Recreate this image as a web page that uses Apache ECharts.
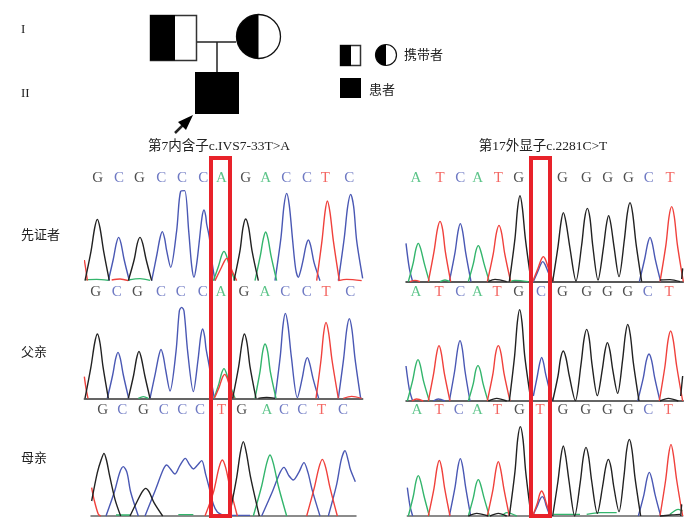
<!DOCTYPE html>
<html><head><meta charset="utf-8">
<script src="https://cdn.jsdelivr.net/npm/echarts@6/dist/echarts.min.js"></script>
<style>html,body{margin:0;padding:0;background:#fff}#c{width:700px;height:525px}</style>
</head><body><div id="c"></div>
<script>
const a_black=[[15,0,33,88,44,158,52,184,60,158,71,88,88,0],[145,0,163,65,172,112,180,130,188,112,198,65,215,0],[462,0,480,90,489,159,497,185,506,159,516,90,535,0]];
const a_blue=[[85,0,100,65,109,112,116,130,123,112,132,65,148,0],[215,0,231,80,240,128,247,147,254,126,260,90,272,40,290,150,302,268,314,270,326,150,335,45,342,10,350,50,357,110,366,190,372,212,377,195,380,170,388,130,397,50,405,0],[585,0,603,130,612,225,620,262,628,225,638,120,647,35,655,10,662,30,670,65,678,105,685,122,692,105,702,55,720,0],[775,0,793,130,803,222,812,259,821,222,830,120,848,7]];
const a_green=[[400,0,416,45,425,76,432,88,439,76,448,45,465,0],[525,0,541,75,550,126,557,146,564,126,573,75,590,0],[15,3,50,4,85,1],[145,2,180,6,210,1]];
const a_red=[[13,62,18,30,22,0],[405,0,422,35,433,58,440,67,447,58,455,33,470,0],[710,0,726,120,735,205,742,239,750,205,760,120,778,0],[95,2,120,5,145,0],[775,0,800,4,845,0]];
const a_bases=["G","C","G","C","C","C","A","G","A","C","C","T","C"];
const a_basePos=[53,117,178,244,306,370,424,497,557,619,681,736,808];

const b_black=[[328,0,345,130,353,222,360,258,367,222,376,130,392,10],[458,0,474,105,483,178,490,207,498,178,510,100,528,2,545,110,554,190,562,220,570,190,578,110,594,5,610,100,619,170,626,198,633,170,642,105,657,15,673,125,682,205,690,237,698,205,708,115,725,0],[845,8,848,40],[265,0,285,7,320,0],[780,5,810,6,840,0]];
const b_blue=[[18,115,28,40,38,0],[148,0,165,87,174,150,181,174,188,150,197,87,213,0],[400,0,414,32,422,52,428,60,435,52,444,30,458,0],[718,0,734,68,743,114,750,133,757,114,766,66,782,0]];
const b_green=[[25,0,40,58,48,99,55,115,62,99,72,58,88,0],[205,0,220,54,228,93,235,108,242,93,252,54,268,0],[330,0,345,4,385,0],[120,0,135,5,150,0]];
const b_red=[[85,0,102,90,112,156,120,181,128,156,136,90,152,0],[262,0,280,85,289,145,297,169,305,145,314,85,332,0],[398,0,414,40,423,65,430,75,437,65,446,38,460,0],[780,0,798,112,807,194,815,225,823,194,832,112,850,0],[30,0,45,4,60,0]];
const b_bases=["A","T","C","A","T","G","G","G","G","G","C","T"];
const b_basePos=[48,120,181,233,295,356,487,559,623,685,746,810];

const c_black=[[15,0,33,95,44,166,52,193,60,166,69,95,85,0],[145,0,161,70,170,121,177,141,184,121,194,70,210,0],[458,0,476,95,486,166,493,193,501,166,510,95,528,0],[535,0,560,3,585,0]];
const c_blue=[[82,0,98,70,107,119,114,138,121,119,130,70,146,0],[210,0,226,75,236,126,243,147,250,126,257,85,270,22,288,140,298,262,305,273,312,262,323,140,340,20,354,115,362,185,368,208,374,185,378,150,388,95,396,40,403,0],[585,0,601,128,609,219,616,255,624,219,634,125,652,2,667,62,675,105,682,122,689,105,699,60,716,0],[775,0,791,120,800,205,808,239,816,205,825,120,842,0]];
const c_green=[[402,0,417,45,425,76,432,89,439,76,448,45,465,0],[525,0,540,80,548,140,555,163,563,140,571,80,588,0],[175,0,190,5,205,0]];
const c_red=[[13,65,18,30,24,0],[403,0,418,35,427,62,434,72,441,62,449,36,462,0],[708,0,723,115,731,196,738,228,746,196,756,115,775,0],[790,0,815,6,845,0]];
const c_bases=["G","C","G","C","C","C","A","G","A","C","C","T","C"];
const c_basePos=[47,110,172,243,302,368,423,492,555,616,680,738,811];

const d_black=[[328,0,344,137,352,236,359,274,366,236,374,137,390,20],[458,0,474,75,482,129,490,150,498,129,508,75,526,1,543,110,552,185,560,215,568,185,576,110,592,16,607,95,615,150,622,175,630,150,638,95,653,23,668,125,676,198,683,230,691,198,700,115,717,0],[842,15,848,75],[265,0,290,8,320,0],[780,0,805,8,835,0]];
const d_blue=[[18,105,28,35,38,0],[148,0,164,90,173,156,180,181,187,156,195,90,210,0],[400,15,412,75,419,113,425,131,431,113,436,85,446,43,452,20,458,0],[713,0,730,70,739,121,747,141,755,121,764,70,780,0],[100,0,115,6,135,0]];
const d_green=[[22,0,38,62,47,107,54,124,61,107,70,62,88,0],[205,0,220,53,227,91,234,106,241,91,249,53,264,0]];
const d_red=[[85,0,101,83,110,143,117,166,124,143,133,83,150,0],[262,0,279,83,287,143,295,166,303,143,312,83,330,0],[778,0,795,105,804,181,812,210,820,181,830,105,848,0],[35,0,50,6,70,0]];
const d_bases=["A","T","C","A","T","G","C","G","G","G","G","C","T"];
const d_basePos=[48,117,181,232,291,356,423,487,560,622,683,743,807];

const e_black=[[35,45,52,130,64,170,72,188,80,165,88,125,105,50,122,0],[150,0,172,45,187,73,197,83,207,73,222,40,248,0],[448,0,470,115,481,190,490,223,499,190,512,115,538,0]];
const e_blue=[[78,0,104,75,119,130,130,148,141,130,152,72,175,0],[195,0,225,75,250,140,260,153,272,140,285,126,300,152,316,173,328,155,340,141,352,152,365,166,377,125,388,83,400,35,412,12,430,2,445,0],[545,0,578,75,600,130,612,146,626,122,640,108,656,130,672,160,684,130,696,80,720,0],[745,0,770,95,784,170,795,196,805,165,811,140,826,103],[445,2,510,2]];
const e_green=[[520,0,545,90,560,158,570,183,580,158,595,90,620,0],[108,3,150,3],[295,4,340,4]];
const e_red=[[35,85,42,50,55,5,62,0],[375,0,400,70,417,145,427,168,437,145,450,85,472,0],[680,0,703,85,717,146,727,170,737,146,750,85,772,0]];
const e_bases=["G","C","G","C","C","C","T","G","A","C","C","T","C"];
const e_basePos=[68,127,190,251,307,360,425,485,561,612,667,725,789];

const f_black=[[328,0,345,134,353,230,361,268,369,230,377,134,392,10],[458,0,474,105,483,180,490,210,497,180,507,105,524,0,541,103,550,177,558,206,566,177,575,105,592,8,608,90,617,146,625,170,633,146,641,90,657,13,672,120,680,198,688,230,696,198,705,115,722,0],[205,0,230,8,265,0],[270,0,295,8,320,0],[780,0,810,3,840,5],[842,0,845,35]];
const f_blue=[[22,85,30,30,38,0],[148,0,165,86,174,148,181,172,188,148,197,86,212,0],[398,0,412,30,420,50,427,58,433,50,439,30,450,0],[715,0,732,65,741,113,748,131,755,113,765,65,782,0]];
const f_green=[[25,0,40,60,48,104,55,121,62,104,72,60,88,0],[205,0,220,55,228,94,235,109,242,94,252,55,268,0],[305,0,320,10,350,0],[460,5,520,5,540,5],[560,5,600,10,650,10],[810,5,835,20,848,15]];
const f_red=[[85,0,102,83,111,144,118,167,125,144,134,83,150,0],[262,0,279,80,288,140,295,163,302,140,312,80,328,0],[398,0,412,38,419,65,425,75,431,65,439,38,452,0],[780,0,797,108,806,185,813,215,820,185,830,108,848,0]];
const f_bases=["A","T","C","A","T","G","T","G","G","G","G","C","T"];
const f_basePos=[51,117,176,232,292,358,420,489,557,622,685,745,805];

const sampleLabels=["先证者","父亲","母亲"];
const generationLabels=["I","II"];
const mutationTitles=["第7内含子c.IVS7-33T>A","第17外显子c.2281C>T"];

const colors={A:"#33b56c",T:"#f0413c",C:"#4a58b4",G:"#222222"};
const panels=[
 {t:{G:a_black,C:a_blue,A:a_green,T:a_red},b:a_bases,p:a_basePos,ox:80,oy:150,base:392,min:15,max:848,ly:307,line:null},
 {t:{G:b_black,C:b_blue,A:b_green,T:b_red},b:b_bases,p:b_basePos,ox:400,oy:150,base:395,min:18,max:850,ly:310,line:"#222"},
 {t:{G:c_black,C:c_blue,A:c_green,T:c_red},b:c_bases,p:c_basePos,ox:80,oy:280,base:355,min:13,max:848,ly:318,line:"#333"},
 {t:{G:d_black,C:d_blue,A:d_green,T:d_red},b:d_bases,p:d_basePos,ox:400,oy:280,base:363,min:18,max:850,ly:326,line:"#333"},
 {t:{G:e_black,C:e_blue,A:e_green,T:e_red},b:e_bases,p:e_basePos,ox:80,oy:400,base:348,min:33,max:828,ly:318,line:"#666"},
 {t:{G:f_black,C:f_blue,A:f_green,T:f_red},b:f_bases,p:f_basePos,ox:400,oy:400,base:348,min:22,max:848,ly:318,line:"#666"}
];
const grid=[],xAxis=[],yAxis=[],series=[];
panels.forEach((P,i)=>{
  grid.push({left:P.ox+P.min/3,width:(P.max-P.min)/3,top:P.oy,height:P.base/3});
  xAxis.push({gridIndex:i,type:"value",min:P.min,max:P.max,splitLine:{show:false},axisTick:{show:false},axisLabel:{show:false},
    axisLine:{show:!!P.line,onZero:false,lineStyle:{color:P.line||"#000",width:1.5}}});
  yAxis.push({gridIndex:i,type:"value",min:0,max:P.base,show:false,splitLine:{show:false}});
  Object.keys(P.t).forEach(k=>P.t[k].forEach(tr=>{
    const d=[];for(let j=0;j<tr.length;j+=2)d.push([tr[j],tr[j+1]]);
    series.push({type:"line",xAxisIndex:i,yAxisIndex:i,data:d,smooth:0.3,showSymbol:false,clip:false,silent:true,
      lineStyle:{color:colors[k],width:1.4},z:k==="G"?3:2});
  }));
  series.push({type:"scatter",xAxisIndex:i,yAxisIndex:i,symbolSize:0,silent:true,clip:false,
    data:P.b.map((b,j)=>({value:[P.p[j],P.ly],label:{show:true,position:"inside",formatter:b,color:colors[b],
      fontFamily:"Liberation Serif",fontSize:15}}))});
});
const txt=(x,y,s,size,extra)=>({type:"text",x,y,z:50,style:Object.assign({text:s,fill:"#222",font:size+'px "Noto Sans CJK SC"',textAlign:"left",textVerticalAlign:"middle"},extra||{})});
const rect=(x,y,w,h,fill,stroke,lw,z)=>({type:"rect",z:z||40,shape:{x,y,width:w,height:h},style:{fill:fill,stroke:stroke||null,lineWidth:lw||0}});
const half=(cx,cy,r)=>({type:"sector",z:41,shape:{cx,cy,r,startAngle:Math.PI/2,endAngle:Math.PI*1.5},style:{fill:"#000"}});
const seg=(x1,y1,x2,y2,lw)=>({type:"line",z:39,shape:{x1,y1,x2,y2},style:{stroke:"#222",lineWidth:lw}});
const graphic=[
  txt(21,30,generationLabels[0],13,{font:'13px "Liberation Serif"'}),
  txt(21,94,generationLabels[1],13,{font:'13px "Liberation Serif"'}),
  txt(21,234,sampleLabels[0],13),txt(21,351,sampleLabels[1],13),txt(21,457,sampleLabels[2],13),
  txt(219,146,mutationTitles[0],13.5,{textAlign:"center",font:'13.5px "Liberation Serif","Noto Sans CJK SC"'}),
  txt(543,146,mutationTitles[1],13.5,{textAlign:"center",font:'13.5px "Liberation Serif","Noto Sans CJK SC"'}),
  txt(404,54,"携带者",13),txt(369,89,"患者",13),
  rect(150.5,15.5,46,45,"#fff","#333",1.5),rect(150,15,25,45.5,"#000"),
  {type:"circle",z:40,shape:{cx:258.5,cy:36.5,r:22},style:{fill:"#fff",stroke:"#111",lineWidth:1.3}},half(258.5,36.5,22),
  seg(197,42,236,42,1.5),seg(217,42,217,73,1.5),
  rect(195,72,44,42,"#000"),
  seg(175,133,189,119,2.5),
  {type:"polygon",z:41,shape:{points:[[193,115],[178,122],[186,130]]},style:{fill:"#000"}},
  rect(340.5,45.5,20,20,"#fff","#333",1.5),rect(340,45,11,21,"#000"),
  {type:"circle",z:40,shape:{cx:386,cy:55,r:10.5},style:{fill:"#fff",stroke:"#111",lineWidth:1.2}},half(386,55,10.5),
  rect(340,78,21,20,"#000"),
  rect(211,158,19,358,"transparent","#e8222a",4,60),
  rect(531,158,19,358,"transparent","#e8222a",4,60)
];
const chart=echarts.init(document.getElementById("c"),null,{renderer:"canvas"});
chart.setOption({animation:false,backgroundColor:"#fff",grid,xAxis,yAxis,series,graphic});
</script></body></html>
